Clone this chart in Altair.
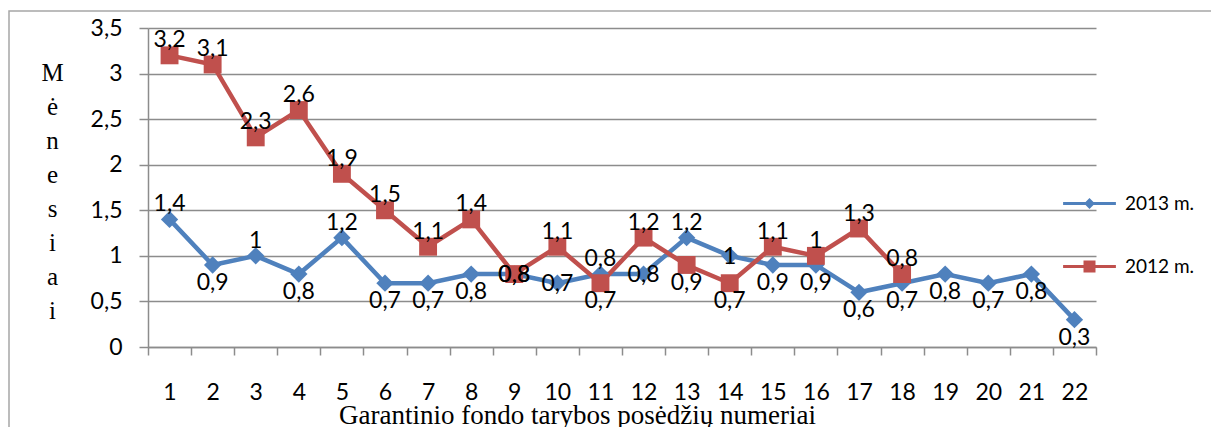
import altair as alt
import pandas as pd

meetings = [str(i) for i in range(1, 23)]
series_names = ["2013 m.", "2012 m."]
v2013 = [1.4, 0.9, 1.0, 0.8, 1.2, 0.7, 0.7, 0.8, 0.8, 0.7, 0.8, 0.8, 1.2, 1.0, 0.9, 0.9, 0.6, 0.7, 0.8, 0.7, 0.8, 0.3]
v2012 = [3.2, 3.1, 2.3, 2.6, 1.9, 1.5, 1.1, 1.4, 0.8, 1.1, 0.7, 1.2, 0.9, 0.7, 1.1, 1.0, 1.3, 0.8]
side2013 = ["above", "below", "above", "below", "above", "below", "below", "below", "center", "center", "above",
            "center", "above", "center", "below", "below", "below", "below", "below", "below", "below", "below"]
side2012 = ["above", "above", "above", "above", "above", "above", "above", "above", "center", "above", "below",
            "above", "below", "below", "above", "above", "above", "above"]
colors = ["#4F81BD", "#C0504D"]

rows = []
for m, v, s in zip(meetings, v2013, side2013):
    rows.append({"meeting": m, "series": series_names[0], "v": v, "side": s})
for m, v, s in zip(meetings, v2012, side2012):
    rows.append({"meeting": m, "series": series_names[1], "v": v, "side": s})
df = pd.DataFrame(rows)

X = alt.X("meeting:O", sort=meetings, bandPosition=0.5,
          scale=alt.Scale(type="band", domain=meetings, paddingInner=0, paddingOuter=0),
          axis=alt.Axis(title="Garantinio fondo tarybos posėdžių numeriai", labelAngle=0,
                        labelFont="Lato", labelFontSize=23, labelColor="#000000", labelPadding=26,
                        tickBand="extent", tickSize=8, tickColor="#8c8c8c", tickWidth=1.5,
                        domainColor="#8c8c8c", domainWidth=1.5, grid=False,
                        titleFont="Liberation Serif", titleFontSize=27, titleFontWeight="normal",
                        titleColor="#000000", titleX=429, titleY=76, titleAlign="center",
                        titleBaseline="alphabetic"))
Y = alt.Y("v:Q", scale=alt.Scale(domain=[0, 3.5], nice=False),
          axis=alt.Axis(values=[0, 0.5, 1, 1.5, 2, 2.5, 3, 3.5],
                        labelExpr="replace(format(datum.value, '~g'), '.', ',')",
                        labelFont="Lato", labelFontSize=23, labelColor="#000000", labelPadding=17,
                        tickSize=9, tickColor="#8c8c8c", tickWidth=1.5,
                        domainColor="#8c8c8c", domainWidth=1.5,
                        grid=True, gridColor="#8c8c8c", gridWidth=1.5,
                        title=["M", "ė", "n", "e", "s", "i", "a", "i"], titleAngle=0,
                        titleFont="Liberation Serif", titleFontSize=25, titleFontWeight="normal",
                        titleColor="#000000", titleLineHeight=34, titleX=-96, titleY=44,
                        titleAlign="center", titleBaseline="middle"))

color_scale = alt.Scale(domain=series_names, range=colors)
base = alt.Chart(df)

lines = base.mark_line(strokeWidth=4.5).encode(
    x=X, y=Y, color=alt.Color("series:N", scale=color_scale, legend=None), detail="series:N")

points = base.mark_point(filled=True, opacity=1).encode(
    x=X, y=Y,
    color=alt.Color("series:N", scale=color_scale, legend=None),
    shape=alt.Shape("series:N", scale=alt.Scale(domain=series_names, range=["diamond", "square"]), legend=None),
    size=alt.Size("series:N", scale=alt.Scale(domain=series_names, range=[300, 320]), legend=None),
)

leg_paths = [
    "M-4.4,-0.25H4.4V0.25H-4.4Z M0,-0.9L0.9,0L0,0.9L-0.9,0Z",
    "M-4.4,-0.25H4.4V0.25H-4.4Z M-1,-1H1V1H-1Z",
]
leg = alt.Legend(orient="none", legendX=932, legendY=166, title=None, labelFont="Lato",
                 labelFontSize=19, labelColor="#000000", symbolSize=144, labelOffset=26,
                 rowPadding=43, padding=0, symbolStrokeWidth=0, symbolOpacity=1)
legend_layer = base.transform_filter("datum.v > 100").mark_point(filled=True).encode(
    x=X, y=Y,
    color=alt.Color("series:N", scale=color_scale, legend=leg),
    shape=alt.Shape("series:N", scale=alt.Scale(domain=series_names, range=leg_paths), legend=leg),
)

label_calc = "replace(format(datum.v, '.1~f'), '.', ',')"
def labels(side, dy):
    return base.transform_filter(alt.datum.side == side).transform_calculate(lbl=label_calc).mark_text(
        font="Lato", fontSize=23, color="#000000", dy=dy, baseline="middle", align="center"
    ).encode(x=X, y=Y, text="lbl:N")

border = alt.Chart(pd.DataFrame({"a": [0]})).mark_rect(
    fillOpacity=0, stroke="#a6a6a6", strokeWidth=1.5
).encode(x=alt.value(-139), x2=alt.value(1200), y=alt.value(-17), y2=alt.value(500))

chart = alt.layer(
    border, lines, points, legend_layer,
    labels("above", -15), labels("below", 18), labels("center", 1)
).resolve_scale(color="independent", shape="independent", size="independent").properties(
    width=948, height=319,
    autosize=alt.AutoSizeParams(type="none"),
    padding={"left": 140, "top": 20, "right": 115, "bottom": 80},
).configure_view(stroke="transparent")

chart.save("out.html", embed_options={"renderer": "svg", "actions": False})
